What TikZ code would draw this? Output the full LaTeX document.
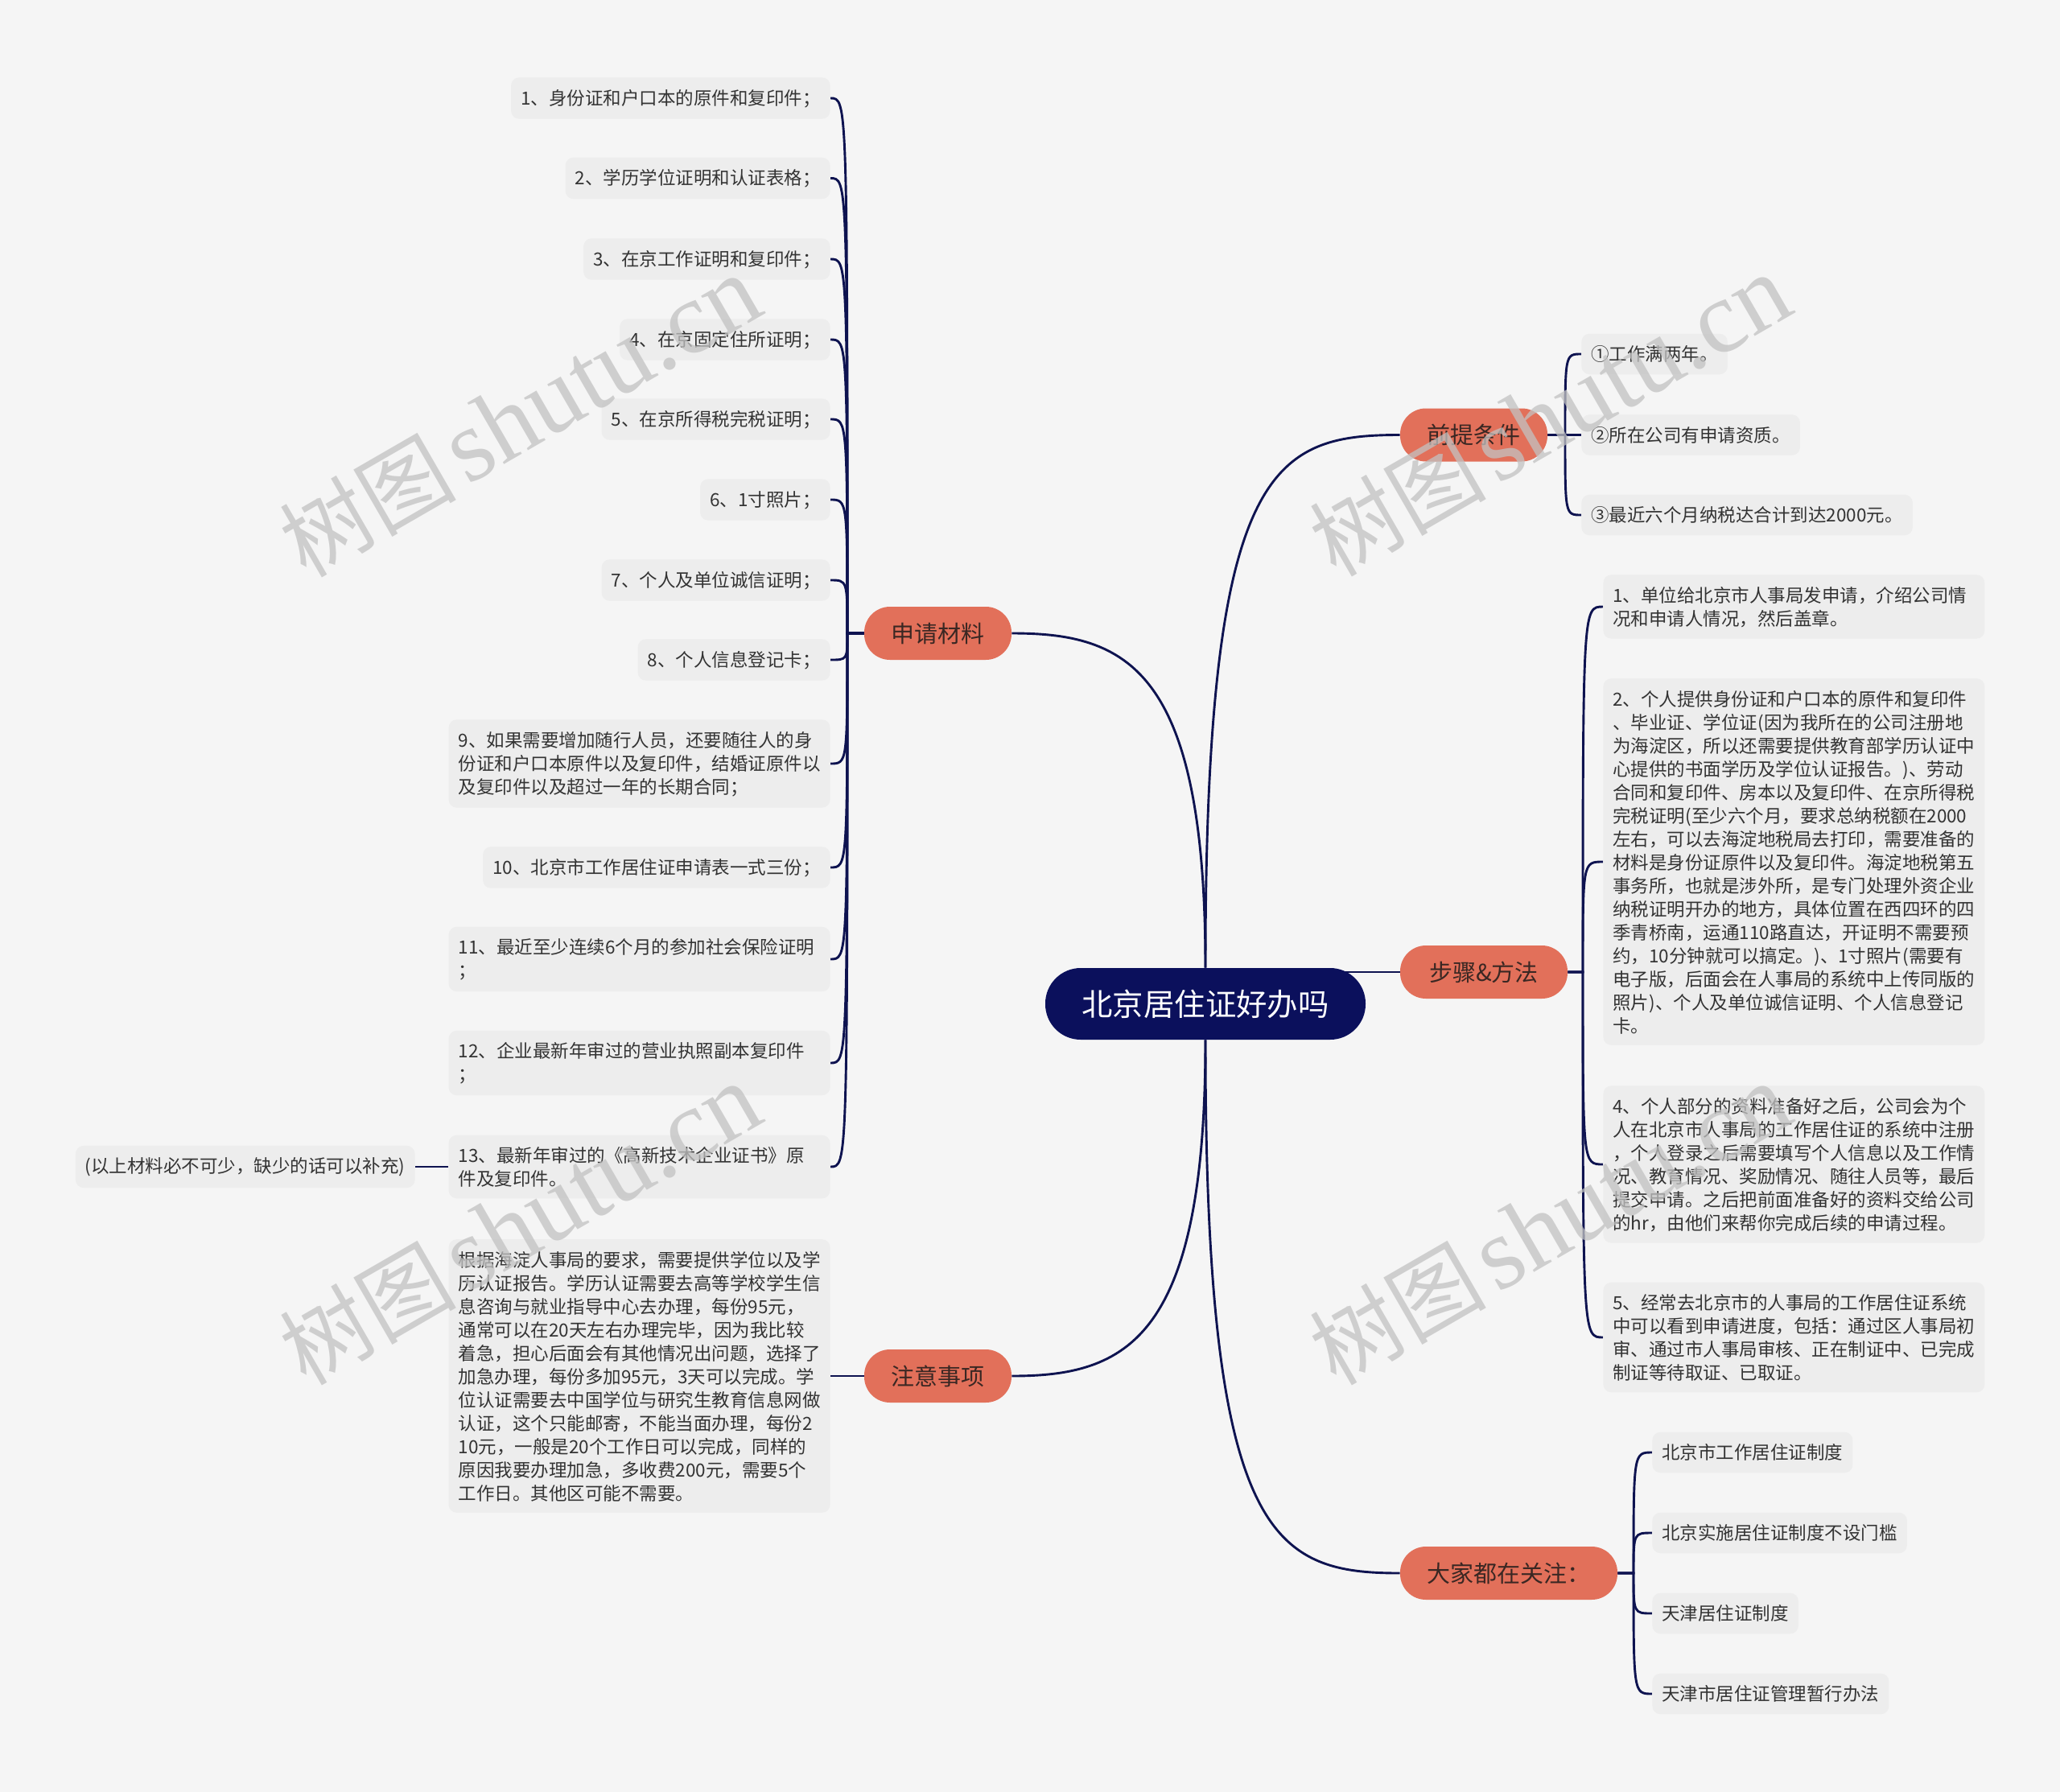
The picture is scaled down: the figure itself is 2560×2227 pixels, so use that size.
\documentclass[tikz,border=0pt]{standalone}
\usepackage{fontspec}
\setmainfont{Noto Sans CJK SC}
\newfontfamily\wmserif{Liberation Serif}
\pgfdeclarelayer{bgl}
\pgfdeclarelayer{fgl}
\pgfsetlayers{bgl,main,fgl}
\definecolor{bg}{HTML}{F5F5F5}
\definecolor{leafbg}{HTML}{EDEDED}
\definecolor{navy}{HTML}{0B105C}
\definecolor{orangec}{HTML}{E2705A}
\definecolor{linec}{HTML}{0E1350}
\definecolor{txt}{HTML}{333333}
\definecolor{brtxt}{HTML}{3A2723}
\newcommand\lfnt{\fontsize{11.25pt}{14.5pt}\selectfont}
\newcommand\lstrut{\rule[-1.35pt]{0pt}{11.25pt}}
\tikzset{
  leafbox/.style={fill=leafbg, rounded corners=5pt, inner xsep=6pt, inner ysep=7pt,
    font=\lfnt, text=txt, align=left, execute at begin node=\lstrut},
  wide/.style={text width=225pt},
  central/.style={fill=navy, rounded corners=22pt, minimum width=199pt, minimum height=44.5pt,
    text=white, font=\fontsize{19.2pt}{23pt}\selectfont, inner sep=0pt},
  branch/.style={fill=orangec, rounded corners=16pt, minimum height=33pt, text=brtxt,
    font=\fontsize{14.5pt}{17pt}\selectfont, inner sep=0pt},
  conn/.style={draw=linec, line width=1.45pt},
  wm/.style={rotate=30, text=black!24, text opacity=0.75, inner sep=0pt,
    font=\fontsize{55pt}{60pt}\selectfont}
}
\newcommand\wmtext{树图\hspace{6pt}{\wmserif\fontsize{64pt}{66pt}\selectfont shutu.cn}}
\begin{document}
\begin{tikzpicture}[x=0.5pt,y=-0.5pt]
\begin{pgfonlayer}{bgl}
\fill[bg] (0,0) rectangle (2560,2227);
\end{pgfonlayer}
\useasboundingbox (0,0) rectangle (2560,2227);

% root and branches
\node[central] (root) at (1498,1247.5) {北京居住证好办吗};
\node[branch, minimum width=91.5pt] (b1) at (1831.5,540.5) {前提条件};
\node[branch, minimum width=104pt] (b2) at (1844,1208) {步骤\&方法};
\node[branch, minimum width=135pt] (b3) at (1875,1955) {大家都在关注：};
\node[branch, minimum width=91.5pt] (b4) at (1165.5,787) {申请材料};
\node[branch, minimum width=91.5pt] (b5) at (1165.5,1710) {注意事项};

% 申请材料 leaves
\node[leafbox, anchor=east] (L1) at (1032,122) {1、身份证和户口本的原件和复印件；};
\node[leafbox, anchor=east] (L2) at (1032,221.5) {2、学历学位证明和认证表格；};
\node[leafbox, anchor=east] (L3) at (1032,322) {3、在京工作证明和复印件；};
\node[leafbox, anchor=east] (L4) at (1032,422) {4、在京固定住所证明；};
\node[leafbox, anchor=east] (L5) at (1032,521) {5、在京所得税完税证明；};
\node[leafbox, anchor=east] (L6) at (1032,621) {6、1寸照片；};
\node[leafbox, anchor=east] (L7) at (1032,721) {7、个人及单位诚信证明；};
\node[leafbox, anchor=east] (L8) at (1032,820) {8、个人信息登记卡；};
\node[leafbox, wide, anchor=east] (L9) at (1032,949) {9、如果需要增加随行人员，还要随往人的身\\份证和户口本原件以及复印件，结婚证原件以\\及复印件以及超过一年的长期合同；};
\node[leafbox, anchor=east] (L10) at (1032,1078) {10、北京市工作居住证申请表一式三份；};
\node[leafbox, wide, anchor=east] (L11) at (1032,1192) {11、最近至少连续6个月的参加社会保险证明\\；};
\node[leafbox, wide, anchor=east] (L12) at (1032,1321) {12、企业最新年审过的营业执照副本复印件\\；};
\node[leafbox, wide, anchor=east] (L13) at (1032,1450) {13、最新年审过的《高新技术企业证书》原\\件及复印件。};
\node[leafbox, anchor=east] (Lnote) at (516,1450) {(以上材料必不可少，缺少的话可以补充)};

% 注意事项 leaf
\node[leafbox, wide, anchor=east] (N1) at (1032,1710) {根据海淀人事局的要求，需要提供学位以及学\\历认证报告。学历认证需要去高等学校学生信\\息咨询与就业指导中心去办理，每份95元，\\通常可以在20天左右办理完毕，因为我比较\\着急，担心后面会有其他情况出问题，选择了\\加急办理，每份多加95元，3天可以完成。学\\位认证需要去中国学位与研究生教育信息网做\\认证，这个只能邮寄，不能当面办理，每份2\\10元，一般是20个工作日可以完成，同样的\\原因我要办理加急，多收费200元，需要5个\\工作日。其他区可能不需要。};

% 前提条件 leaves
\node[leafbox, anchor=west] (P1) at (1965,440) {①工作满两年。};
\node[leafbox, anchor=west] (P2) at (1965,540.5) {②所在公司有申请资质。};
\node[leafbox, anchor=west] (P3) at (1965,640) {③最近六个月纳税达合计到达2000元。};

% 步骤&方法 leaves
\node[leafbox, wide, anchor=west] (S1) at (1992,754) {1、单位给北京市人事局发申请，介绍公司情\\况和申请人情况，然后盖章。};
\node[leafbox, wide, anchor=west] (S2) at (1992,1071) {2、个人提供身份证和户口本的原件和复印件\\、毕业证、学位证(因为我所在的公司注册地\\为海淀区，所以还需要提供教育部学历认证中\\心提供的书面学历及学位认证报告。)、劳动\\合同和复印件、房本以及复印件、在京所得税\\完税证明(至少六个月，要求总纳税额在2000\\左右，可以去海淀地税局去打印，需要准备的\\材料是身份证原件以及复印件。海淀地税第五\\事务所，也就是涉外所，是专门处理外资企业\\纳税证明开办的地方，具体位置在西四环的四\\季青桥南，运通110路直达，开证明不需要预\\约，10分钟就可以搞定。)、1寸照片(需要有\\电子版，后面会在人事局的系统中上传同版的\\照片)、个人及单位诚信证明、个人信息登记\\卡。};
\node[leafbox, wide, anchor=west] (S4) at (1992,1447) {4、个人部分的资料准备好之后，公司会为个\\人在北京市人事局的工作居住证的系统中注册\\，个人登录之后需要填写个人信息以及工作情\\况、教育情况、奖励情况、随往人员等，最后\\提交申请。之后把前面准备好的资料交给公司\\的hr，由他们来帮你完成后续的申请过程。};
\node[leafbox, wide, anchor=west] (S5) at (1992,1662) {5、经常去北京市的人事局的工作居住证系统\\中可以看到申请进度，包括：通过区人事局初\\审、通过市人事局审核、正在制证中、已完成\\制证等待取证、已取证。};

% 大家都在关注 leaves
\node[leafbox, anchor=west] (G1) at (2053,1805) {北京市工作居住证制度};
\node[leafbox, anchor=west] (G2) at (2053,1905) {北京实施居住证制度不设门槛};
\node[leafbox, anchor=west] (G3) at (2053,2005) {天津居住证制度};
\node[leafbox, anchor=west] (G4) at (2053,2105) {天津市居住证管理暂行办法};

% connector knots
\coordinate (k1) at (1945,540.5);
\coordinate (k2) at (1967,1208);
\coordinate (k3) at (2030,1955);
\coordinate (k4) at (1053,787);

\begin{pgfonlayer}{bgl}
\draw[conn] (root.north) .. controls (1498,580) and (1580,540.5) .. (b1.west);
\draw[conn] (root.north) .. controls (1498,830) and (1400,787) .. (b4.east);
\draw[conn] (root.south) .. controls (1498,1665) and (1400,1710) .. (b5.east);
\draw[conn] (root.south) .. controls (1498,1910) and (1580,1955) .. (b3.west);
\draw[conn] (b2.west) -- (b2.west -| root.center);
\foreach \n in {L1,L2,L3,L4,L5,L6,L7,L8,L9,L10,L11,L12,L13}
  \draw[conn] (b4.west) -- (k4) .. controls (k4 |- \n.east) .. (\n.east);
\draw[conn] (b5.west) -- (N1.east |- b5.west);
\draw[conn] (L13.west) -- (Lnote.east);
\foreach \n in {P1,P2,P3}
  \draw[conn] (b1.east) -- (k1) .. controls (k1 |- \n.west) .. (\n.west);
\foreach \n in {S1,S2,S4,S5}
  \draw[conn] (b2.east) -- (k2) .. controls (k2 |- \n.west) .. (\n.west);
\foreach \n in {G1,G2,G3,G4}
  \draw[conn] (b3.east) -- (k3) .. controls (k3 |- \n.west) .. (\n.west);
\end{pgfonlayer}

% watermarks
\begin{pgfonlayer}{fgl}
\node[wm] (wm1) at (646,518) {\wmtext};
\node[wm] (wm2) at (1926,517) {\wmtext};
\node[wm] (wm3) at (646,1522) {\wmtext};
\node[wm] (wm4) at (1926,1522) {\wmtext};
\end{pgfonlayer}
\end{tikzpicture}
\end{document}
